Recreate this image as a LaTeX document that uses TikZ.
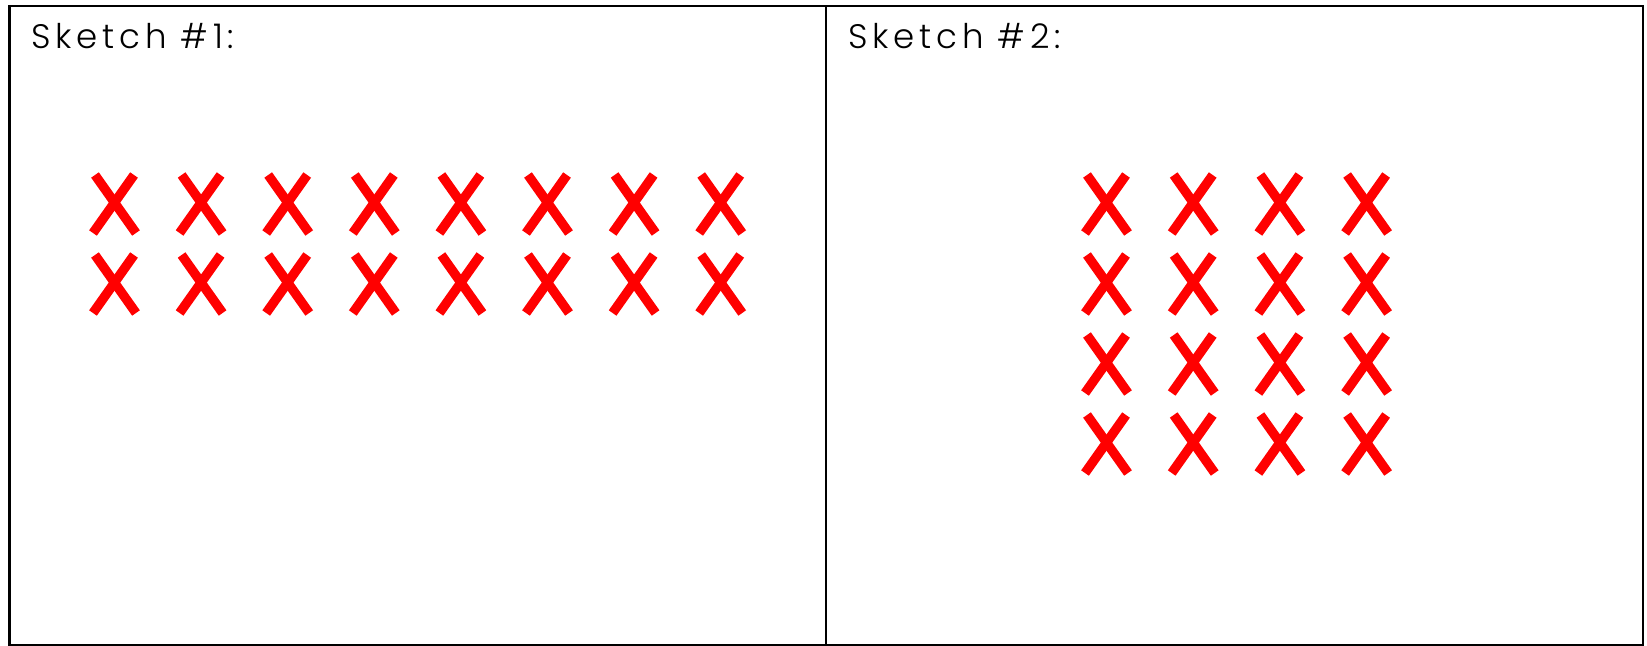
\documentclass[tikz,border=0pt]{standalone}
\usepackage{fontspec}
\IfFontExistsTF{Poppins Light}
	{\setmainfont{Poppins Light}[LetterSpace=14]}
	{\setmainfont{Poppins}[LetterSpace=14]}
\usetikzlibrary{positioning}

\begin{document}
\begin{tikzpicture}[
	x=0.5pt, y=-0.5pt,
	frame/.style={draw=black, line width=1.3pt},
	title/.style={anchor=base west, inner sep=0pt, font=\fontsize{17}{20}\selectfont},
	cross/.style={draw=red, line width=4.7pt},
	redx/.pic={
		\draw[cross] (-20,-29) -- (21,29);
		\draw[cross] (19,-29) -- (-22,29);
	}
]
\useasboundingbox (0,0) rectangle (1647,646);

% Rahmen
\draw[frame] (9.5,6) rectangle (1643,645);
\draw[frame] (826,6) -- (826,645);

% Titel
\node[title] (sketcha) at (31,49) {Sketch \#1:};
\node[title] (sketchb) at (848,49) {Sketch \#2:};

% Sketch 1: 2 Reihen zu 8
\foreach \r in {0,1}
	\foreach \c in {0,...,7}
		\pic at ({115+86.6*\c},{204+80*\r}) {redx};

% Sketch 2: 4 Reihen zu 4
\foreach \r in {0,...,3}
	\foreach \c in {0,...,3}
		\pic at ({1107+86.7*\c},{204+80*\r}) {redx};
\end{tikzpicture}
\end{document}
